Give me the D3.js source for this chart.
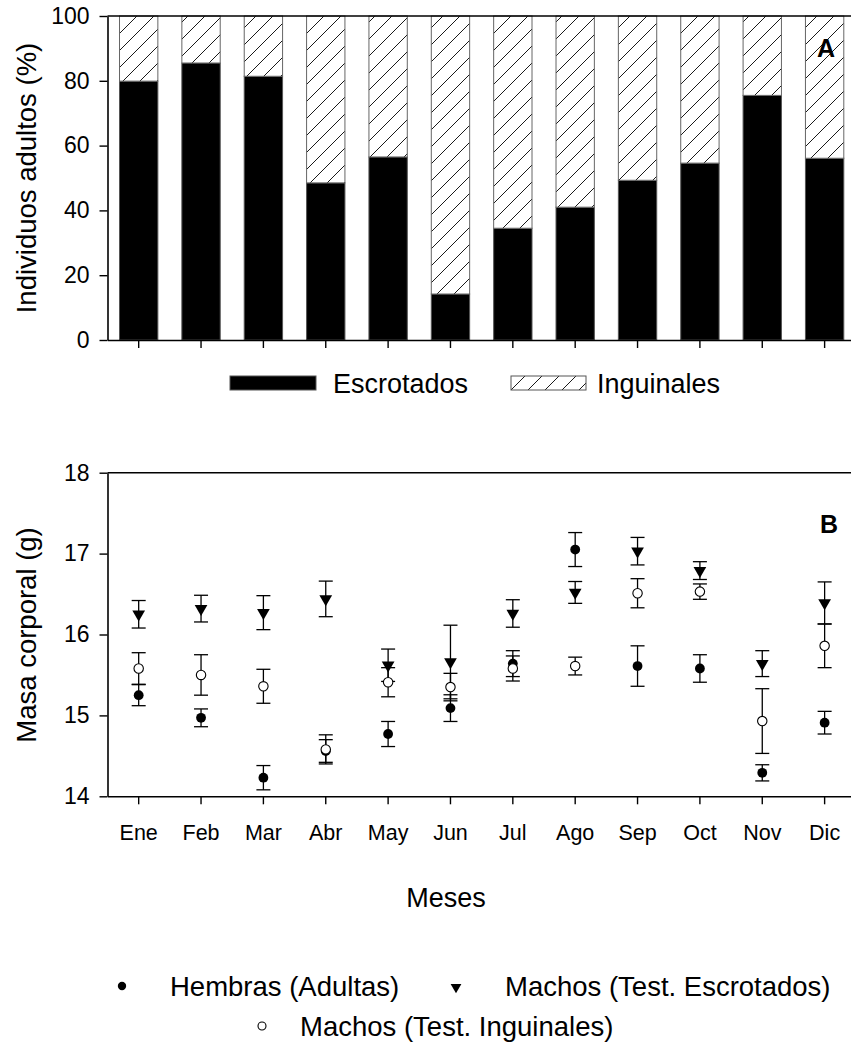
<!DOCTYPE html>
<html><head><meta charset="utf-8">
<script src="https://cdn.jsdelivr.net/npm/d3@7"></script>
<style>
body{margin:0;background:#fff}
svg{display:block}
text{font-family:"Liberation Sans",Arial,sans-serif;fill:#000}
</style>
</head><body>
<svg id="c" width="851" height="1051"></svg>
<script>
// ---------- DATA ----------
const months = ["Ene","Feb","Mar","Abr","May","Jun","Jul","Ago","Sep","Oct","Nov","Dic"];
// Panel A (% of adult males)
const escrotados = [79.9, 85.5, 81.4, 48.5, 56.5, 14.2, 34.5, 41.0, 49.3, 54.6, 75.5, 56.1];
const inguinales = [20.1, 14.5, 18.6, 51.5, 43.5, 85.8, 65.5, 59.0, 50.7, 45.4, 24.5, 43.9];
const ticksA = [0, 20, 40, 60, 80, 100];
// Panel B (body mass, g) means and error
const hembrasMean = [15.25, 14.97, 14.23, 14.56, 14.77, 15.09, 15.64, 17.05, 15.61, 15.58, 14.29, 14.91];
const hembrasErr  = [0.13, 0.11, 0.15, 0.14, 0.155, 0.165, 0.16, 0.21, 0.25, 0.17, 0.10, 0.14];
const escMean = [16.25, 16.32, 16.27, 16.44, 15.62, 15.66, 16.26, 16.52, 17.03, 16.79, 15.64, 16.39];
const escErr  = [0.17, 0.165, 0.21, 0.22, 0.20, 0.455, 0.17, 0.135, 0.17, 0.11, 0.16, 0.26];
const ingMean = [15.58, 15.50, 15.36, 14.58, 15.41, 15.35, 15.58, 15.61, 16.51, 16.53, 14.93, 15.86];
const ingErr  = [0.195, 0.25, 0.21, 0.18, 0.18, 0.17, 0.155, 0.11, 0.18, 0.095, 0.40, 0.27];
const ticksB = [14, 15, 16, 17, 18];
const legendA = ["Escrotados", "Inguinales"];
const legendB = ["Hembras (Adultas)", "Machos (Test. Escrotados)", "Machos (Test. Inguinales)"];

// ---------- LAYOUT ----------
const svg = d3.select("#c");
const X0 = 107.5, X1 = 855.8;
const FS = 27.5;
const x = d3.scaleBand().domain(months).range([X0, X1]).paddingInner(0.385).paddingOuter(0.1925);

const defs = svg.append("defs");
const P = 17;
const pat = defs.append("pattern").attr("id", "hatch").attr("patternUnits", "userSpaceOnUse")
  .attr("width", P).attr("height", P);
pat.append("rect").attr("width", P).attr("height", P).attr("fill", "#fff");
pat.append("path").attr("d", `M0,${P} L${P},0 M-4,4 L4,-4 M${P-4},${P+4} L${P+4},${P-4}`)
  .attr("stroke", "#000").attr("stroke-width", 0.9);

function styleAxis(g, fs) {
  g.select(".domain").attr("stroke", "#000").attr("stroke-width", 1.6);
  g.selectAll(".tick line").attr("stroke", "#000").attr("stroke-width", 1.4);
  g.selectAll(".tick text").style("font-size", fs + "px").style("font-family", '"Liberation Sans", Arial, sans-serif');
}

// ---------- PANEL A ----------
const yA = d3.scaleLinear().domain([0, 100]).range([340, 16]);
const gA = svg.append("g");

gA.selectAll("rect.esc").data(months).join("rect")
  .attr("x", d => x(d)).attr("width", x.bandwidth())
  .attr("y", (d, i) => yA(escrotados[i])).attr("height", (d, i) => yA(0) - yA(escrotados[i]))
  .attr("fill", "#000").attr("stroke", "#555").attr("stroke-width", 1);
gA.selectAll("rect.ing").data(months).join("rect")
  .attr("x", d => x(d)).attr("width", x.bandwidth())
  .attr("y", (d, i) => yA(escrotados[i] + inguinales[i]))
  .attr("height", (d, i) => yA(escrotados[i]) - yA(escrotados[i] + inguinales[i]))
  .attr("fill", "url(#hatch)").attr("stroke", "#666").attr("stroke-width", 1);

gA.append("line").attr("x1", X0).attr("x2", X1).attr("y1", yA(100)).attr("y2", yA(100))
  .attr("stroke", "#000").attr("stroke-width", 1.6);
const axLA = gA.append("g").attr("transform", `translate(${X0},0)`)
  .call(d3.axisLeft(yA).tickValues(ticksA).tickSize(8).tickSizeOuter(0).tickPadding(10).tickFormat(d3.format("d")));
styleAxis(axLA, 23);
const axBA = gA.append("g").attr("transform", `translate(0,${yA(0)})`)
  .call(d3.axisBottom(x).tickSize(8).tickSizeOuter(0).tickFormat(""));
styleAxis(axBA, 21);

gA.append("text").attr("transform", "translate(36,178) rotate(-90)")
  .attr("text-anchor", "middle").style("font-size", "27.5px").text("Individuos adultos (%)");
gA.append("text").attr("x", 826).attr("y", 57).attr("text-anchor", "middle")
  .style("font-size", "25px").style("font-weight", "bold").text("A");

// legend A
const lgA = gA.append("g");
lgA.append("rect").attr("x", 230).attr("y", 376).attr("width", 86).attr("height", 14)
  .attr("fill", "#000").attr("stroke", "#555");
lgA.append("text").attr("x", 333).attr("y", 393).style("font-size", "27px").text(legendA[0]);
lgA.append("rect").attr("x", 511).attr("y", 376).attr("width", 75).attr("height", 14)
  .attr("fill", "url(#hatch)").attr("stroke", "#555");
lgA.append("text").attr("x", 597).attr("y", 393).style("font-size", "27px").text(legendA[1]);

// ---------- PANEL B ----------
const yB = d3.scaleLinear().domain([14, 18]).range([796.3, 472.7]);
const gB = svg.append("g");
gB.append("line").attr("x1", X0).attr("x2", X1).attr("y1", yB(18)).attr("y2", yB(18))
  .attr("stroke", "#000").attr("stroke-width", 1.6);
const axLB = gB.append("g").attr("transform", `translate(${X0},0)`)
  .call(d3.axisLeft(yB).tickValues(ticksB).tickSize(8).tickSizeOuter(0).tickPadding(10).tickFormat(d3.format("d")));
styleAxis(axLB, 23);
const axBB = gB.append("g").attr("transform", `translate(0,${yB(14)})`)
  .call(d3.axisBottom(x).tickSize(8).tickSizeOuter(0).tickPadding(20));
styleAxis(axBB, 21.5);

gB.append("text").attr("transform", "translate(36,635) rotate(-90)")
  .attr("text-anchor", "middle").style("font-size", "27.5px").text("Masa corporal (g)");
gB.append("text").attr("x", 829).attr("y", 533).attr("text-anchor", "middle")
  .style("font-size", "25px").style("font-weight", "bold").text("B");
gB.append("text").attr("x", 446).attr("y", 907).attr("text-anchor", "middle")
  .style("font-size", "27px").text("Meses");

const cx = d => x(d) + x.bandwidth() / 2;
const CAP = 7;
function series(mean, err, kind) {
  const g = gB.append("g");
  months.forEach((m, i) => {
    const X = cx(m), top = yB(mean[i] + err[i]), bot = yB(mean[i] - err[i]);
    g.append("line").attr("x1", X).attr("x2", X).attr("y1", top).attr("y2", bot).attr("stroke", "#000").attr("stroke-width", 1.3);
    g.append("line").attr("x1", X - CAP).attr("x2", X + CAP).attr("y1", top).attr("y2", top).attr("stroke", "#000").attr("stroke-width", 1.3);
    g.append("line").attr("x1", X - CAP).attr("x2", X + CAP).attr("y1", bot).attr("y2", bot).attr("stroke", "#000").attr("stroke-width", 1.3);
  });
  months.forEach((m, i) => marker(g, cx(m), yB(mean[i]), kind, 1));
}
function marker(g, X, Y, kind, s) {
  if (kind === "fill") g.append("circle").attr("cx", X).attr("cy", Y).attr("r", 4.9 * s).attr("fill", "#000");
  else if (kind === "open") g.append("circle").attr("cx", X).attr("cy", Y).attr("r", 4.7 * s).attr("fill", "#fff").attr("stroke", "#000").attr("stroke-width", 1.1);
  else g.append("path").attr("d", d3.symbol(d3.symbolTriangle, 70 * s * s)()).attr("transform", `translate(${X},${Y}) rotate(180)`).attr("fill", "#000");
}
series(hembrasMean, hembrasErr, "fill");
series(escMean, escErr, "tri");
series(ingMean, ingErr, "open");

// legend B
const lgB = gB.append("g");
marker(lgB, 122, 986, "fill", 0.85);
lgB.append("text").attr("x", 170).attr("y", 996).style("font-size", FS + "px").text(legendB[0]);
marker(lgB, 456, 987, "tri", 0.85);
lgB.append("text").attr("x", 505).attr("y", 996).style("font-size", FS + "px").text(legendB[1]);
marker(lgB, 262, 1026, "open", 0.85);
lgB.append("text").attr("x", 300).attr("y", 1036).style("font-size", FS + "px").text(legendB[2]);
</script>
</body></html>
